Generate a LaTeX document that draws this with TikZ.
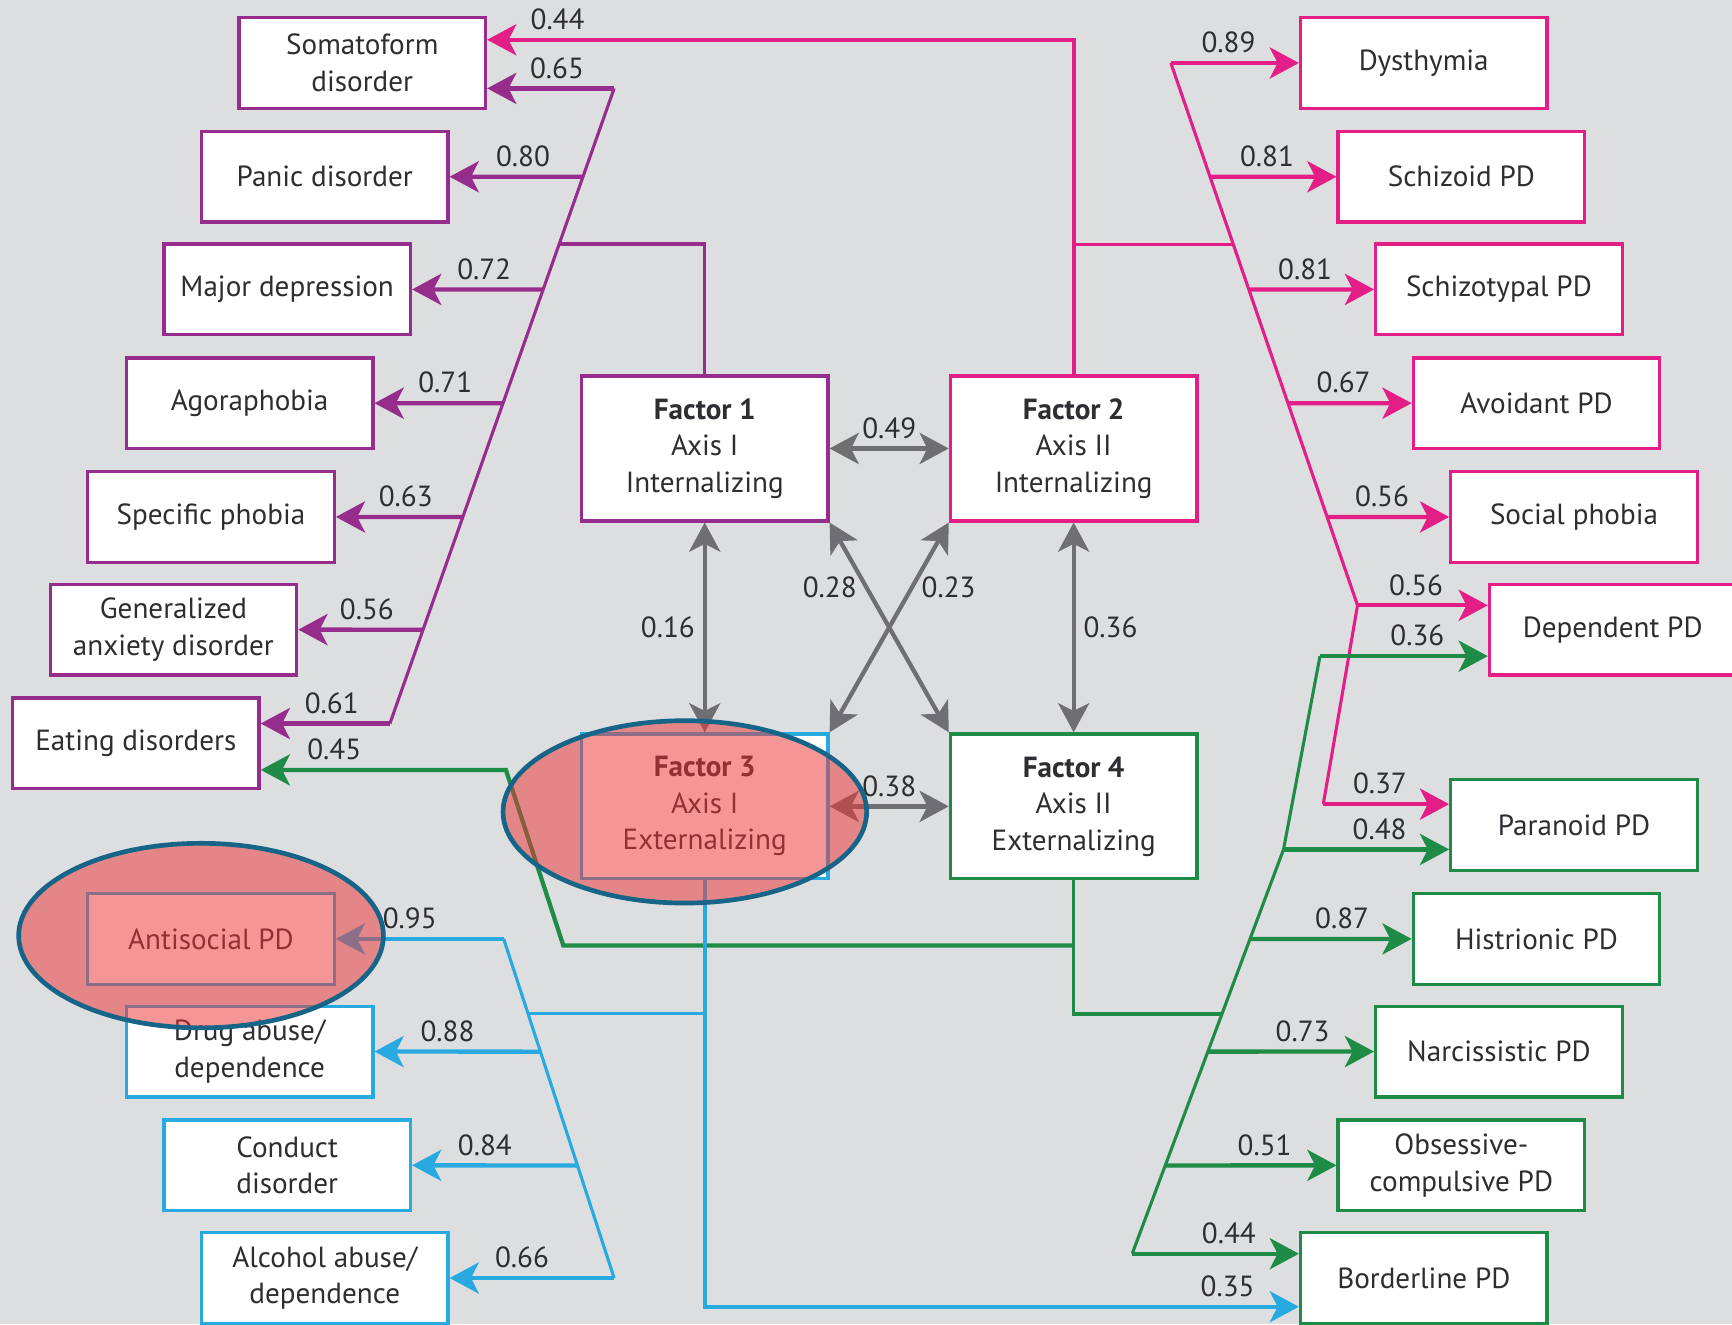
\documentclass[tikz,border=0pt]{standalone}
\usepackage{fontspec}
\setmainfont{PT Sans}
\usetikzlibrary{arrows.meta,calc}

\definecolor{bg}{RGB}{221,222,224}
\definecolor{txt}{RGB}{45,45,50}
\definecolor{cPur}{RGB}{150,45,140}
\definecolor{cPink}{RGB}{228,30,135}
\definecolor{cGrn}{RGB}{30,140,70}
\definecolor{cBlu}{RGB}{40,170,225}
\definecolor{cGry}{RGB}{110,110,115}
\definecolor{hlred}{RGB}{235,55,55}
\definecolor{hlring}{RGB}{22,100,135}

\tikzset{
  >={Stealth[length=7.5pt,width=8pt,inset=2pt]},
  dbox/.style={draw, fill=white, line width=0.85pt, minimum width=2.23cm,
    minimum height=0.82cm, align=center, inner sep=1pt, text=txt},
  fbox/.style={dbox, minimum height=1.31cm},
  pbox/.style={dbox, draw=cPur},
  kbox/.style={dbox, draw=cPink},
  gbox/.style={dbox, draw=cGrn},
  bbox/.style={dbox, draw=cBlu},
  lab/.style={above, inner sep=2pt, text=txt, pos=0.45},
  pline/.style={cPur, line width=0.8pt},
  kline/.style={cPink, line width=0.8pt},
  gline/.style={cGrn, line width=0.8pt},
  bline/.style={cBlu, line width=0.8pt},
  parr/.style={pline, line width=1.1pt, ->},
  karr/.style={kline, line width=1.1pt, ->},
  garr/.style={gline, line width=1.1pt, ->},
  barr/.style={bline, line width=1.1pt, ->},
  farr/.style={cGry, line width=1.1pt, <->},
  hl/.style={draw=hlring, line width=1.2pt, fill=hlred, fill opacity=0.52}
}

\begin{document}
\begin{tikzpicture}[x=0.01cm, y=-0.01cm, font=\fontsize{7.5}{9.4}\selectfont]
\useasboundingbox (0,0) rectangle (1568,1199);
\fill[bg] (0,0) rectangle (1568,1199);

% the four factors
\node[fbox, draw=cPur] (f1) at (638,406) {{\bfseries Factor 1}\\Axis I\\Internalizing};
\node[fbox, draw=cPink] (f2) at (972,406) {{\bfseries Factor 2}\\Axis II\\Internalizing};
\node[fbox, draw=cBlu] (f3) at (638,730) {{\bfseries Factor 3}\\Axis I\\Externalizing};
\node[fbox, draw=cGrn] (f4) at (972,730) {{\bfseries Factor 4}\\Axis II\\Externalizing};

% axis I internalizing
\node[pbox] (som) at (328,57) {Somatoform\\disorder};
\node[pbox] (pan) at (294,160) {Panic disorder};
\node[pbox] (mdd) at (260,262) {Major depression};
\node[pbox] (ago) at (226,365) {Agoraphobia};
\node[pbox] (sph) at (191,468) {Specific phobia};
\node[pbox] (gad) at (157,570) {Generalized\\anxiety disorder};
\node[pbox] (eat) at (123,673) {Eating disorders};

% axis I externalizing
\node[bbox] (asp) at (191,850) {Antisocial PD};
\node[bbox] (drug) at (226,952) {Drug abuse/\\dependence};
\node[bbox] (cond) at (260,1055) {Conduct\\disorder};
\node[bbox] (alc) at (294,1157) {Alcohol abuse/\\dependence};

% axis II internalizing
\node[kbox] (dys) at (1289,57) {Dysthymia};
\node[kbox] (szd) at (1323,160) {Schizoid PD};
\node[kbox] (szt) at (1357,262) {Schizotypal PD};
\node[kbox] (avd) at (1391,365) {Avoidant PD};
\node[kbox] (soc) at (1425,468) {Social phobia};
\node[kbox] (dep) at (1460,570) {Dependent PD};

% axis II externalizing
\node[gbox] (par) at (1425,747) {Paranoid PD};
\node[gbox] (his) at (1391,850) {Histrionic PD};
\node[gbox] (nar) at (1357,952) {Narcissistic PD};
\node[gbox] (ocd) at (1323,1055) {Obsessive-\\compulsive PD};
\node[gbox] (bpd) at (1289,1157) {Borderline PD};

% factor 1 tree
\coordinate (pT) at (556,80);
\coordinate (pB) at (353,655);
\coordinate (pJ) at ($(pT)!0.245!(pB)$);
\draw[pline] (pT) -- (pB);
\draw[pline] (f1.north) |- (pJ);
\draw[parr] (pT) -- node[lab]{0.65} (som.east |- pT);
\draw[parr] (intersection of pT--pB and pan.east--pan.west) -- node[lab]{0.80} (pan.east);
\draw[parr] (intersection of pT--pB and mdd.east--mdd.west) -- node[lab]{0.72} (mdd.east);
\draw[parr] (intersection of pT--pB and ago.east--ago.west) -- node[lab]{0.71} (ago.east);
\draw[parr] (intersection of pT--pB and sph.east--sph.west) -- node[lab]{0.63} (sph.east);
\draw[parr] (intersection of pT--pB and gad.east--gad.west) -- node[lab]{0.56} (gad.east);
\draw[parr] (pB) -- node[lab]{0.61} (eat.east |- pB);

% factor 2 tree
\coordinate (kT) at (1060,57);
\coordinate (kM) at (1229,548);
\coordinate (kB) at (1198,728);
\coordinate (kJ) at ($(kT)!0.334!(kM)$);
\coordinate (kC) at (972,36);
\draw[kline] (kT) -- (kM) -- (kB);
\draw[kline] (kJ -| f2.north) -- (kJ);
\draw[karr] (f2.north) -- (kC) -- node[lab, pos=0.88]{0.44} (som.east |- kC);
\draw[karr] (kT) -- node[lab]{0.89} (dys.west);
\draw[karr] (intersection of kT--kM and szd.west--szd.east) -- node[lab]{0.81} (szd.west);
\draw[karr] (intersection of kT--kM and szt.west--szt.east) -- node[lab]{0.81} (szt.west);
\draw[karr] (intersection of kT--kM and avd.west--avd.east) -- node[lab]{0.67} (avd.west);
\draw[karr] (intersection of kT--kM and soc.west--soc.east) -- node[lab]{0.56} (soc.west);
\draw[karr] (kM) -- node[lab]{0.56} (dep.west |- kM);
\draw[karr] (kB) -- node[lab]{0.37} (par.west |- kB);

% factor 4 tree
\coordinate (gT) at (1195,594);
\coordinate (gM) at (1162,769);
\coordinate (gB) at (1025,1135);
\coordinate (gJ) at ($(gM)!0.407!(gB)$);
\coordinate (gE) at (972,856);
\coordinate (gK) at (510,856);
\coordinate (gL) at (458,697);
\draw[gline] (gT) -- (gM) -- (gB);
\draw[gline] (f4.south) |- (gJ);
\draw[garr] (gE) -- (gK) -- (gL) -- node[lab, pos=0.7]{0.45} (eat.east |- gL);
\draw[garr] (gT) -- node[lab, pos=0.58]{0.36} (dep.west |- gT);
\draw[garr] (gM) -- node[lab, pos=0.58]{0.48} (par.west |- gM);
\draw[garr] (intersection of gM--gB and his.west--his.east) -- node[lab, pos=0.57]{0.87} (his.west);
\draw[garr] (intersection of gM--gB and nar.west--nar.east) -- node[lab, pos=0.57]{0.73} (nar.west);
\draw[garr] (intersection of gM--gB and ocd.west--ocd.east) -- node[lab, pos=0.58]{0.51} (ocd.west);
\draw[garr] (gB) -- node[lab, pos=0.58]{0.44} (bpd.west |- gB);

% factor 3 tree
\coordinate (bT) at (456,850);
\coordinate (bB) at (556,1157);
\coordinate (bJ) at ($(bT)!0.22!(bB)$);
\coordinate (bC) at (638,1183);
\draw[bline] (bT) -- (bB);
\draw[bline] (bJ -| f3.south) -- (bJ);
\draw[barr] (f3.south) -- (bC) -- node[lab, pos=0.88]{0.35} (bpd.west |- bC);
\draw[barr] (bT) -- node[lab, pos=0.56]{0.95} (asp.east);
\draw[barr] (intersection of bT--bB and drug.east--drug.west) -- node[lab, pos=0.56]{0.88} (drug.east);
\draw[barr] (intersection of bT--bB and cond.east--cond.west) -- node[lab, pos=0.56]{0.84} (cond.east);
\draw[barr] (bB) -- node[lab, pos=0.56]{0.66} (alc.east);

% correlations between factors
\draw[farr] (f1.east) -- node[lab, pos=0.5]{0.49} (f2.west);
\draw[farr] (f3.east) -- node[lab, pos=0.5]{0.38} (f4.west);
\draw[farr] (f1.south) -- node[left, inner sep=2pt, text=txt]{0.16} (f3.north);
\draw[farr] (f2.south) -- node[right, inner sep=2pt, text=txt]{0.36} (f4.north);
\draw[farr] (f1.south east) -- node[left, pos=0.31, inner sep=2pt, text=txt]{0.28} (f4.north west);
\draw[farr] (f2.south west) -- node[right, pos=0.31, inner sep=2pt, text=txt]{0.23} (f3.north east);

% highlights
\draw[hl] (620,735) ellipse (1.645cm and 0.825cm);
\draw[hl] (182,847) ellipse (1.65cm and 0.835cm);
\end{tikzpicture}
\end{document}
